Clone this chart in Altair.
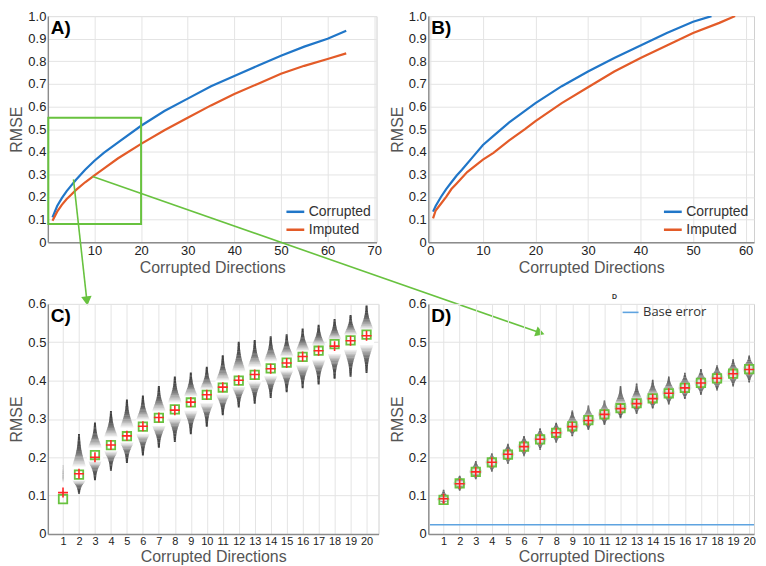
import altair as alt
import numpy as np
import pandas as pd

FONT = "Liberation Sans"
BLUE = "#2076c8"
ORANGE = "#e35b28"
GREEN = "#68c23f"
RED = "#ff2626"
BASE_BLUE = "#5ea3e0"

# ---------------- Panel A ----------------
A_X = [1, 2, 3, 4, 5, 6, 8, 10, 12, 15, 20, 25, 30, 35, 40, 45, 50, 55, 60, 64]
A_CORRUPTED = [0.11, 0.16, 0.195, 0.225, 0.25, 0.275, 0.32, 0.36, 0.395, 0.44, 0.515,
               0.58, 0.635, 0.69, 0.735, 0.78, 0.825, 0.865, 0.9, 0.935]
A_IMPUTED = [0.095, 0.135, 0.165, 0.19, 0.21, 0.23, 0.265, 0.295, 0.325, 0.37, 0.435,
             0.495, 0.55, 0.605, 0.655, 0.70, 0.745, 0.78, 0.81, 0.835]
ZOOM_BOX_X = [0.1, 20]
ZOOM_BOX_Y = [0.08, 0.55]
ARROW_X0 = [5.5, 9.6]
ARROW_Y0 = [0.278, 0.29]
ARROW_X1 = [8.38, 105.6]
ARROW_Y1 = [-0.26, -0.401]
ARROW_ANGLE = [353.4, 19.2]
ARROW_SHAPE = ["triangle-down", "triangle-right"]

# ---------------- Panel B ----------------
B_X_CORR = [0.5, 1, 2, 3, 4, 5, 6, 8, 10, 12, 15, 20, 25, 30, 35, 40, 45, 50, 53.5]
B_CORR = [0.135, 0.16, 0.2, 0.235, 0.265, 0.295, 0.32, 0.375, 0.43, 0.47, 0.53, 0.615,
          0.69, 0.755, 0.815, 0.87, 0.925, 0.975, 1.0]
B_X_IMP = [0.5, 1, 2, 3, 4, 5, 7, 10, 12, 15, 18, 20, 25, 30, 35, 40, 45, 50, 55, 58]
B_IMP = [0.105, 0.14, 0.17, 0.2, 0.235, 0.26, 0.31, 0.365, 0.395, 0.45, 0.5, 0.535,
         0.615, 0.685, 0.755, 0.815, 0.87, 0.925, 0.97, 1.0]

# ---------------- Panel C ----------------
DIRS = list(range(1, 21))
C_MEDIAN = [0.091, 0.155, 0.206, 0.232, 0.255, 0.280, 0.303, 0.325, 0.343, 0.363,
            0.382, 0.400, 0.415, 0.432, 0.447, 0.462, 0.478, 0.495, 0.505, 0.520]
C_MEAN = [0.108, 0.157, 0.200, 0.232, 0.256, 0.281, 0.304, 0.323, 0.344, 0.363,
          0.383, 0.401, 0.416, 0.431, 0.446, 0.463, 0.478, 0.490, 0.504, 0.517]
C_PEAK = [0.12, 0.15, 0.205, 0.232, 0.255, 0.278, 0.3, 0.322, 0.34, 0.36,
          0.38, 0.4, 0.415, 0.43, 0.445, 0.46, 0.475, 0.49, 0.503, 0.515]
C_LOW = [0.10, 0.105, 0.14, 0.165, 0.185, 0.205, 0.225, 0.24, 0.26, 0.28,
         0.31, 0.33, 0.34, 0.355, 0.37, 0.38, 0.39, 0.405, 0.41, 0.42]
C_HIGH = [0.18, 0.26, 0.29, 0.32, 0.35, 0.36, 0.385, 0.41, 0.42, 0.435,
          0.465, 0.50, 0.505, 0.515, 0.52, 0.535, 0.545, 0.56, 0.57, 0.595]
C_HALFWIDTH = [0.05] + [0.52] * 19

# ---------------- Panel D ----------------
D_MEDIAN = [0.089, 0.132, 0.162, 0.187, 0.207, 0.228, 0.247, 0.264, 0.281, 0.297,
            0.312, 0.328, 0.341, 0.354, 0.367, 0.381, 0.394, 0.406, 0.418, 0.430]
D_MEAN = [0.092, 0.131, 0.162, 0.187, 0.208, 0.228, 0.247, 0.264, 0.280, 0.296,
          0.312, 0.327, 0.340, 0.353, 0.367, 0.381, 0.394, 0.406, 0.418, 0.429]
D_LOW = [0.08, 0.113, 0.143, 0.163, 0.183, 0.203, 0.22, 0.238, 0.255, 0.272,
         0.285, 0.302, 0.313, 0.327, 0.338, 0.352, 0.363, 0.374, 0.385, 0.395]
D_HIGH = [0.115, 0.152, 0.19, 0.21, 0.235, 0.255, 0.275, 0.29, 0.322, 0.335,
          0.348, 0.385, 0.392, 0.402, 0.41, 0.42, 0.43, 0.44, 0.455, 0.465]
D_HALFWIDTH = [0.4] * 20
BASE_ERROR = 0.024

SERIES = ["Corrupted", "Imputed"]


def violin_slices(dirs, peak, low, high, halfwidth, n=48):
    rows = []
    for d, c, lo, hi, w in zip(dirs, peak, low, high, halfwidth):
        edges = np.linspace(lo, hi, n + 1)
        step = (hi - lo) / n
        for k in range(n):
            y0, y1 = edges[k], edges[k + 1]
            ym = (y0 + y1) / 2
            s = max((c - lo) if ym < c else (hi - c), 0.004) / 3.0
            dens = float(np.exp(-0.5 * ((ym - c) / s) ** 2))
            hw = w * (0.1 + 0.9 * dens ** 0.9)
            rows.append(dict(g=d, x0=d - hw, x1=d + hw, y0=y0, y1=y1 + step * 0.3, dens=dens))
    return pd.DataFrame(rows)


def y_axis(maxv):
    return alt.Axis(values=[round(i * 0.1, 1) for i in range(int(round(maxv * 10)) + 1)],
                    labelExpr="datum.value == 0 ? '0' : format(datum.value, '.1f')",
                    labelOverlap=False, tickCount=40, title="RMSE")


def panel_label(text):
    return alt.Chart(pd.DataFrame({"t": [text]})).mark_text(
        align="left", baseline="top", fontSize=19, fontWeight="bold", font=FONT, color="#000"
    ).encode(text="t:N", x=alt.value(3), y=alt.value(3))


def series_legend():
    return alt.Legend(orient="bottom-right", title=None, symbolType="stroke",
                      symbolStrokeWidth=2.5, symbolSize=320, labelFontSize=14,
                      labelColor="#333", labelFont=FONT, offset=5, padding=0,
                      rowPadding=0, labelOffset=3)


color_scale = alt.Scale(domain=SERIES, range=[BLUE, ORANGE])

# ----- A -----
dfA = pd.DataFrame({"x": A_X * 2, "y": A_CORRUPTED + A_IMPUTED,
                    "s": [SERIES[0]] * len(A_X) + [SERIES[1]] * len(A_X)})
xA = alt.X("x:Q", scale=alt.Scale(domain=[0, 70.5], nice=False),
           axis=alt.Axis(values=list(range(10, 71, 10)), labelOverlap=False, tickCount=40,
                         format="d", title="Corrupted Directions"))
yA = alt.Y("y:Q", scale=alt.Scale(domain=[0, 1], nice=False), axis=y_axis(1.0))
linesA = alt.Chart(dfA).mark_line(strokeWidth=2.2).encode(
    x=xA, y=yA, color=alt.Color("s:N", scale=color_scale, legend=series_legend(), sort=SERIES))
boxA = alt.Chart(pd.DataFrame({"x": [ZOOM_BOX_X[0]], "x2": [ZOOM_BOX_X[1]],
                               "y": [ZOOM_BOX_Y[0]], "y2": [ZOOM_BOX_Y[1]]})).mark_rect(
    fill=None, fillOpacity=0, stroke=GREEN, strokeWidth=2).encode(x="x:Q", x2="x2:Q", y="y:Q", y2="y2:Q")
arrows = pd.DataFrame({"x": ARROW_X0, "y": ARROW_Y0, "x2": ARROW_X1, "y2": ARROW_Y1,
                       "angle": ARROW_ANGLE, "shape": ARROW_SHAPE})
arrowLines = alt.Chart(arrows).mark_rule(color=GREEN, strokeWidth=1.6, clip=False).encode(
    x="x:Q", y="y:Q", x2="x2:Q", y2="y2:Q")
arrowHeads = alt.Chart(arrows).mark_point(filled=True, color=GREEN, size=110, opacity=1, clip=False).encode(
    x="x2:Q", y="y2:Q", angle=alt.Angle("angle:Q", scale=None), shape=alt.Shape("shape:N", scale=None))
panelA = alt.layer(linesA, boxA, arrowLines, arrowHeads, panel_label("A)")).properties(width=330, height=227)

# ----- B -----
dfB = pd.DataFrame({"x": B_X_CORR + B_X_IMP, "y": B_CORR + B_IMP,
                    "s": [SERIES[0]] * len(B_X_CORR) + [SERIES[1]] * len(B_X_IMP)})
linesB = alt.Chart(dfB).mark_line(strokeWidth=2.2, clip=True).encode(
    x=alt.X("x:Q", scale=alt.Scale(domain=[-0.4, 61.6], nice=False),
            axis=alt.Axis(values=list(range(0, 61, 10)), labelOverlap=False, tickCount=40,
                          format="d", title="Corrupted Directions")),
    y=alt.Y("y:Q", scale=alt.Scale(domain=[0, 1], nice=False), axis=y_axis(1.0)),
    color=alt.Color("s:N", scale=color_scale, legend=series_legend(), sort=SERIES))
panelB = alt.layer(linesB, panel_label("B)")).properties(width=327, height=227)


# ----- C / D -----
def violin_panel(label, median, mean, peak, low, high, halfwidth, xdomain, width, shades, extra=None):
    vdf = violin_slices(DIRS, peak, low, high, halfwidth)
    xs = alt.Scale(domain=xdomain, nice=False)
    ys = alt.Scale(domain=[0, 0.6], nice=False)
    xaxis = alt.Axis(values=DIRS, title="Corrupted Directions", labelFontSize=11, labelOverlap=False,
                     tickCount=40, format="d", labelFont=FONT)
    vio = alt.Chart(vdf).mark_rect(strokeWidth=0, clip=True).encode(
        x=alt.X("x0:Q", scale=xs, axis=xaxis), x2="x1:Q",
        y=alt.Y("y0:Q", scale=ys, axis=y_axis(0.6)), y2="y1:Q",
        color=alt.Color("dens:Q", scale=alt.Scale(domain=[0, 0.4, 0.8], range=shades, clamp=True),
                        legend=None))
    pts = pd.DataFrame({"d": DIRS, "median": median, "mean": mean})
    sq = alt.Chart(pts).mark_point(shape="square", filled=False, stroke=GREEN, strokeWidth=1.8,
                                   size=72, opacity=1).encode(x="d:Q", y="median:Q")
    cr = alt.Chart(pts).mark_point(shape="M-1,0L1,0M0,-1L0,1", filled=False, stroke=RED,
                                   strokeWidth=1.6, size=100, opacity=1).encode(x="d:Q", y="mean:Q")
    layers = [vio, sq, cr]
    if extra:
        layers += extra
    layers.append(panel_label(label))
    return alt.layer(*layers).properties(width=width, height=231)


panelC = violin_panel("C)", C_MEDIAN, C_MEAN, C_PEAK, C_LOW, C_HIGH, C_HALFWIDTH,
                      [0.05, 20.75], 332, ["#3d3d3d", "#a0a0a0", "#ffffff"])

base = alt.Chart(pd.DataFrame({"x": [0.15], "x2": [20.3], "y": [BASE_ERROR]})).mark_rule(
    color=BASE_BLUE, strokeWidth=1.6).encode(x="x:Q", x2="x2:Q", y="y:Q")
leg = pd.DataFrame({"x": [12.13], "x2": [13.12], "y": [0.578], "tx": [13.4], "t": ["Base error"]})
legLine = alt.Chart(leg).mark_rule(color=BASE_BLUE, strokeWidth=1.6).encode(x="x:Q", x2="x2:Q", y="y:Q")
legText = alt.Chart(leg).mark_text(align="left", baseline="middle", fontSize=13, font="Open Sans",
                                   color="#333").encode(x="tx:Q", y="y:Q", text="t:N")
tinyD = alt.Chart(pd.DataFrame({"x": [11.63], "y": [0.617], "t": ["D"]})).mark_text(
    fontSize=7, fontWeight="bold", font=FONT, color="#333").encode(x="x:Q", y="y:Q", text="t:N")
panelD = violin_panel("D)", D_MEDIAN, D_MEAN, D_MEDIAN, D_LOW, D_HIGH, D_HALFWIDTH,
                      [0.05, 20.3], 327, ["#4a4a4a", "#7c7c7c", "#dcdcdc"],
                      extra=[base, legLine, legText, tinyD])

chart = alt.concat(panelA, panelB, panelC, panelD, columns=2, bounds="flush",
                   spacing={"row": 62, "column": 50}).resolve_scale(
    color="independent", x="independent", y="independent").properties(
    padding={"left": 0, "top": 0, "right": 0, "bottom": 0}
).configure_view(stroke="#d0d0d0", strokeWidth=1).configure_axis(
    labelFont=FONT, titleFont=FONT, labelFontSize=13, titleFontSize=16, titleFontWeight="normal",
    labelColor="#222", titleColor="#555", gridColor="#e4e4e4", gridWidth=1,
    domainColor="#8c8c8c", domainWidth=1.4, ticks=False, labelPadding=2, titlePadding=2
).configure_axisY(titlePadding=3)

chart.save("out.html", embed_options={"renderer": "svg", "actions": False})
